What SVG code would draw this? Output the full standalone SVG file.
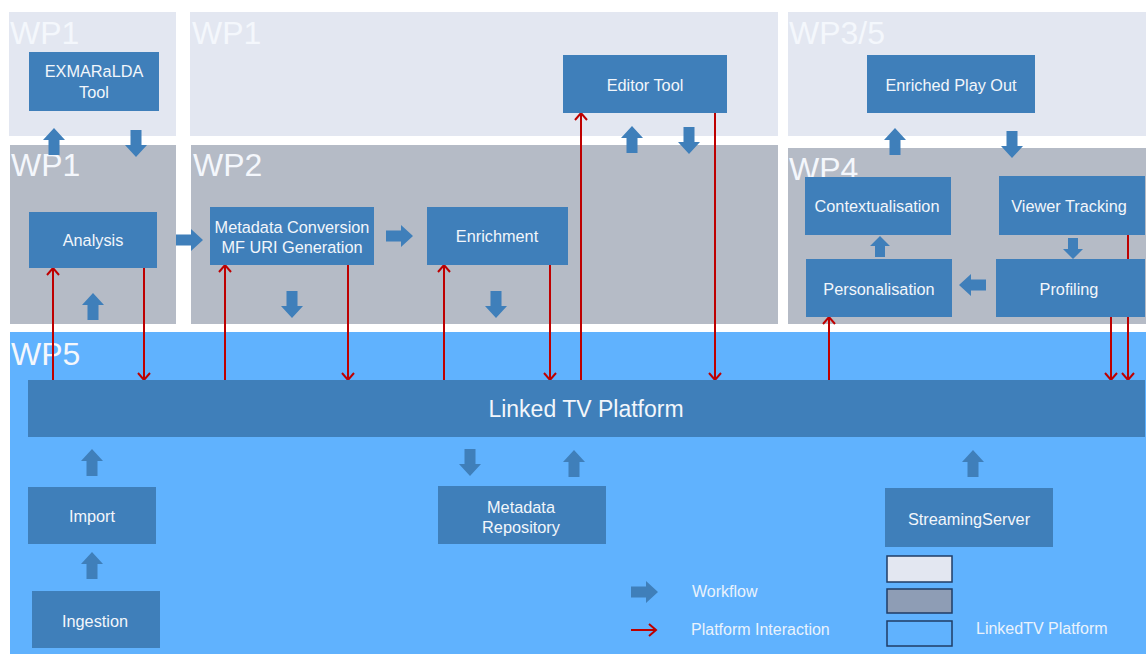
<svg xmlns="http://www.w3.org/2000/svg" width="1146" height="654" viewBox="0 0 1146 654">
<style>
.light{fill:#E3E7F1}
.grey{fill:#B5BBC6}
.blue{fill:#60B2FE}
.wp{font-family:"Liberation Sans",Arial,sans-serif;font-size:32px;fill:#F4F7FC}
.node rect{fill:#3F7FBA}
.node text{font-family:"Liberation Sans",Arial,sans-serif;font-size:16.3px;fill:#F2F6FB;text-anchor:middle}
.red{stroke:#BE0000;stroke-width:2;fill:none}
.wf{fill:#3F7FBA}
.leg{font-family:"Liberation Sans",Arial,sans-serif;font-size:16px;fill:#EAF2FC}
.lbox{stroke:#1F3D66;stroke-width:1.5}
</style>
<defs>
<path id="wfa" d="M0,0 L11,12 L5.5,12 L5.5,27 L-5.5,27 L-5.5,12 L-11,12 Z"/>
<path id="wfs" d="M0,0 L10,10 L5,10 L5,21 L-5,21 L-5,10 L-10,10 Z"/>
<marker id="rh" viewBox="-9 -7 11 14" markerWidth="11" markerHeight="14" refX="0" refY="0" orient="auto" markerUnits="userSpaceOnUse">
<path d="M-7,-6 L0,0 L-7,6" fill="none" stroke="#BE0000" stroke-width="2"/>
</marker>
</defs>
<rect width="1146" height="654" fill="#FFFFFF"/>
<g id="panels">
<rect class="light" x="9" y="12" width="167" height="124"/>
<rect class="light" x="190" y="12" width="588" height="124"/>
<rect class="light" x="788" y="12" width="358" height="124"/>
<rect class="grey" x="10" y="145" width="166" height="179"/>
<rect class="grey" x="191" y="145" width="587" height="179"/>
<rect class="grey" x="788" y="148" width="358" height="176"/>
<rect class="blue" x="10" y="332" width="1136" height="322"/>
<text class="wp" x="10" y="44">WP1</text>
<text class="wp" x="192" y="44">WP1</text>
<text class="wp" x="789" y="44">WP3/5</text>
<text class="wp" x="11" y="176">WP1</text>
<text class="wp" x="193" y="176">WP2</text>
<text class="wp" x="789" y="180">WP4</text>
<text class="wp" x="11" y="365">WP5</text>
</g>
<g id="connectors">
<line class="red" x1="53" y1="380" x2="53" y2="268" marker-end="url(#rh)"/>
<line class="red" x1="144" y1="268" x2="144" y2="380" marker-end="url(#rh)"/>
<line class="red" x1="225" y1="380" x2="225" y2="265" marker-end="url(#rh)"/>
<line class="red" x1="348" y1="265" x2="348" y2="380" marker-end="url(#rh)"/>
<line class="red" x1="444" y1="380" x2="444" y2="265" marker-end="url(#rh)"/>
<line class="red" x1="550" y1="265" x2="550" y2="380" marker-end="url(#rh)"/>
<line class="red" x1="581" y1="380" x2="581" y2="113" marker-end="url(#rh)"/>
<line class="red" x1="715" y1="113" x2="715" y2="380" marker-end="url(#rh)"/>
<line class="red" x1="829" y1="380" x2="829" y2="317" marker-end="url(#rh)"/>
<line class="red" x1="1111" y1="317" x2="1111" y2="380" marker-end="url(#rh)"/>
<line class="red" x1="1128" y1="235" x2="1128" y2="380" marker-end="url(#rh)"/>
<use href="#wfa" class="wf" transform="translate(54,128)"/>
<use href="#wfa" class="wf" transform="translate(136,157) rotate(180)"/>
<use href="#wfa" class="wf" transform="translate(93,293)"/>
<use href="#wfa" class="wf" transform="translate(203,240) rotate(90)"/>
<use href="#wfa" class="wf" transform="translate(292,318) rotate(180)"/>
<use href="#wfa" class="wf" transform="translate(413,236) rotate(90)"/>
<use href="#wfa" class="wf" transform="translate(496,318) rotate(180)"/>
<use href="#wfa" class="wf" transform="translate(632,126)"/>
<use href="#wfa" class="wf" transform="translate(689,154) rotate(180)"/>
<use href="#wfa" class="wf" transform="translate(895,128)"/>
<use href="#wfa" class="wf" transform="translate(1012,158) rotate(180)"/>
<use href="#wfs" class="wf" transform="translate(880,236)"/>
<use href="#wfs" class="wf" transform="translate(1073,259) rotate(180)"/>
<use href="#wfa" class="wf" transform="translate(959,285) rotate(-90)"/>
<use href="#wfa" class="wf" transform="translate(92,449)"/>
<use href="#wfa" class="wf" transform="translate(92,552)"/>
<use href="#wfa" class="wf" transform="translate(470,476) rotate(180)"/>
<use href="#wfa" class="wf" transform="translate(574,450)"/>
<use href="#wfa" class="wf" transform="translate(973,450)"/>
</g>
<g id="exmaralda" class="node"><rect x="29" y="52" width="130" height="59"/><text x="94" y="77">EXMARaLDA</text><text x="94" y="98">Tool</text></g>
<g id="analysis" class="node"><rect x="29" y="212" width="128" height="56"/><text x="93" y="246">Analysis</text></g>
<g id="metadata-conversion" class="node"><rect x="210" y="207" width="164" height="58"/><text x="292" y="233">Metadata Conversion</text><text x="292" y="253">MF URI  Generation</text></g>
<g id="enrichment" class="node"><rect x="427" y="207" width="141" height="58"/><text x="497" y="242">Enrichment</text></g>
<g id="editor-tool" class="node"><rect x="563" y="55" width="164" height="58"/><text x="645" y="91">Editor Tool</text></g>
<g id="enriched-play-out" class="node"><rect x="867" y="55" width="168" height="58"/><text x="951" y="91">Enriched Play Out</text></g>
<g id="contextualisation" class="node"><rect x="805" y="177" width="146" height="58"/><text x="877" y="212">Contextualisation</text></g>
<g id="viewer-tracking" class="node"><rect x="999" y="176" width="146" height="59"/><text x="1069" y="212">Viewer Tracking</text></g>
<g id="personalisation" class="node"><rect x="806" y="259" width="146" height="58"/><text x="879" y="295">Personalisation</text></g>
<g id="profiling" class="node"><rect x="996" y="259" width="149" height="58"/><text x="1069" y="295">Profiling</text></g>
<g id="platform" class="node"><rect x="28" y="380" width="1117" height="57"/><text x="586" y="417" style="font-size:23px">Linked TV Platform</text></g>
<g id="import" class="node"><rect x="28" y="487" width="128" height="57"/><text x="92" y="522">Import</text></g>
<g id="ingestion" class="node"><rect x="32" y="591" width="128" height="57"/><text x="95" y="627">Ingestion</text></g>
<g id="metadata-repository" class="node"><rect x="438" y="486" width="168" height="58"/><text x="521" y="513">Metadata</text><text x="521" y="533">Repository</text></g>
<g id="streaming-server" class="node"><rect x="885" y="488" width="168" height="59"/><text x="969" y="525">StreamingServer</text></g>
<g id="legend">
<use href="#wfa" class="wf" transform="translate(658,592) rotate(90)"/>
<line class="red" x1="631" y1="630" x2="656" y2="630" marker-end="url(#rh)"/>
<text class="leg" x="692" y="597">Workflow</text>
<text class="leg" x="691" y="635">Platform Interaction</text>
<rect class="lbox" x="887" y="556" width="65" height="26" fill="#E3E7F1"/>
<rect class="lbox" x="887" y="589" width="65" height="24" fill="#8E9DB5"/>
<rect class="lbox" x="887" y="621" width="65" height="25" fill="#60B2FE"/>
<text class="leg" x="976" y="634">LinkedTV  Platform</text>
</g>
</svg>
